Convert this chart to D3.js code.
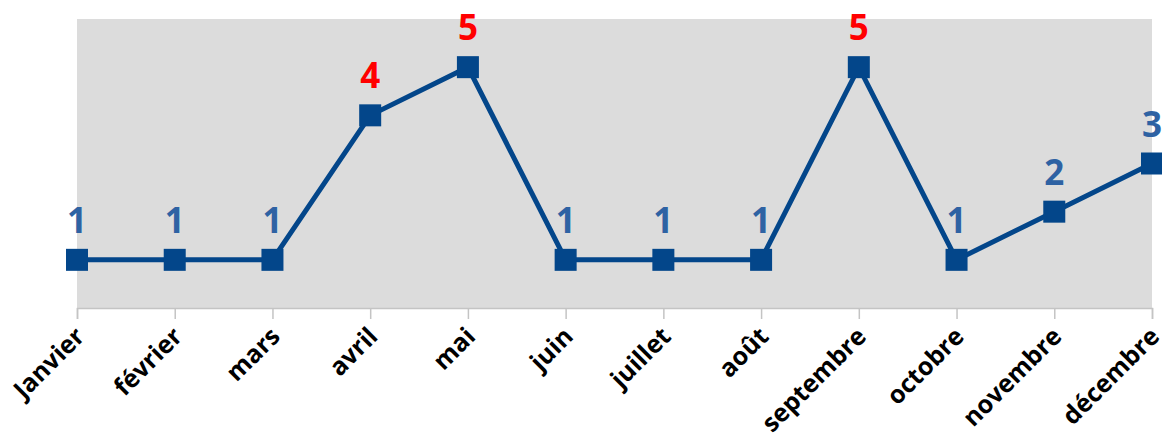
<html>
  <head>
    <meta charset="utf-8">
    <script src="https://cdn.jsdelivr.net/npm/d3@7"></script>
    <style>
      body { margin: 0; background: #fff; }
      text { font-family: "Open Sans", "DejaVu Sans", sans-serif; }
    </style>
  </head>
  <body>
    <div id="chart"></div>
    <script>
      // monthly values
      const months = ["Janvier", "février", "mars", "avril", "mai", "juin",
        "juillet", "août", "septembre", "octobre", "novembre", "décembre"];
      const values = [1, 1, 1, 4, 5, 1, 1, 1, 5, 1, 2, 3];
      const yDomain = [0, 6];

      const W = 1162, H = 442;
      const svg = d3.select("#chart").append("svg")
        .attr("width", W).attr("height", H);

      let x = d3.scalePoint().domain(months).range([77, 1152]).padding(0);
      let y = d3.scaleLinear().domain(yDomain).range([308, 19]);

      // plot background
      svg.append("rect")
        .attr("x", x.range()[0]).attr("y", y(yDomain[1]))
        .attr("width", x.range()[1] - x.range()[0])
        .attr("height", y(yDomain[0]) - y(yDomain[1]))
        .attr("fill", "#dcdcdc");

      // x axis
      let xAxis = d3.axisBottom(x).tickSize(11).tickPadding(0).tickFormat("");
      let xg = svg.append("g")
        .attr("transform", `translate(0,${y(0)})`)
        .call(xAxis);
      xg.select(".domain").attr("stroke", "#c4c4c4").attr("stroke-width", 1.5);
      xg.selectAll(".tick line").attr("stroke", "#c4c4c4").attr("stroke-width", 1.5);

      svg.append("g").selectAll("text")
        .data(months)
        .join("text")
        .attr("transform", (d) => `translate(${x(d) + 9},${y(0) + 30}) rotate(-45)`)
        .attr("text-anchor", "end")
        .attr("font-size", 25)
        .attr("font-weight", "bold")
        .attr("fill", "#000")
        .text((d) => d);

      // line
      let line = d3.line()
        .x((d, i) => x(months[i]))
        .y((d) => y(d));

      svg.append("path")
        .datum(values)
        .attr("d", line)
        .attr("fill", "none")
        .attr("stroke", "#03468a")
        .attr("stroke-width", 5)
        .attr("stroke-linejoin", "miter");

      // markers
      const ms = 22;
      svg.selectAll(".marker")
        .data(values)
        .join("rect")
        .attr("class", "marker")
        .attr("x", (d, i) => x(months[i]) - ms / 2)
        .attr("y", (d) => y(d) - ms / 2)
        .attr("width", ms)
        .attr("height", ms)
        .attr("fill", "#03468a");

      // value labels
      svg.selectAll(".lbl")
        .data(values)
        .join("text")
        .attr("class", "lbl")
        .attr("x", (d, i) => x(months[i]))
        .attr("y", (d) => y(d) - 27)
        .attr("text-anchor", "middle")
        .attr("font-size", 35)
        .attr("font-weight", "bold")
        .attr("fill", (d) => (d >= 4 ? "#ff0000" : "#2e62a3"))
        .text((d) => d);
    </script>
  </body>
</html>
